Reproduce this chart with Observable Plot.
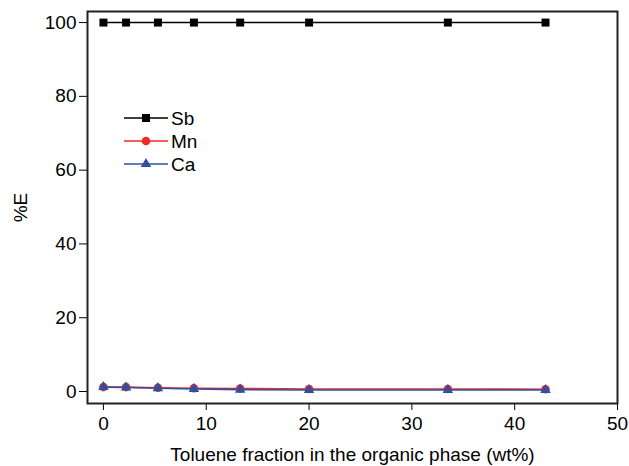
<!DOCTYPE html>
<html>
<head>
<meta charset="utf-8">
<script src="https://cdn.jsdelivr.net/npm/d3@7"></script>
<script src="https://cdn.jsdelivr.net/npm/@observablehq/plot@0.6"></script>
<style>
  html, body { margin: 0; padding: 0; background: #fff; }
  #chart { position: relative; width: 629px; height: 466px; }
</style>
</head>
<body>
<div id="chart"></div>
<script>
// Data
const toluene = [0, 2.2, 5.3, 8.8, 13.3, 20, 33.5, 43];
const sb = [100, 100, 100, 100, 100, 100, 100, 100];
const mn = [1.2, 1.2, 1.0, 0.9, 0.8, 0.7, 0.7, 0.6];
const ca = [1.2, 1.1, 0.9, 0.7, 0.5, 0.4, 0.4, 0.4];
const xTicks = [0, 10, 20, 30, 40, 50];
const yTicks = [0, 20, 40, 60, 80, 100];
const seriesNames = ["Sb", "Mn", "Ca"];
const seriesColors = ["#000000", "#ee2a24", "#2f4f9f"];
const seriesSymbols = ["square", "circle", "triangle"];
const seriesR = [4.5, 4.3, 3.9];

const seriesValues = [sb, mn, ca];
const rows = seriesNames.flatMap((name, i) =>
  toluene.map((t, j) => ({series: name, x: t, y: seriesValues[i][j]})));

const marks = [
  Plot.axisX({ticks: xTicks, tickSize: 7, tickPadding: 6, fontSize: 19,
    label: "Toluene fraction in the organic phase (wt%)", labelAnchor: "center",
    labelArrow: "none", labelOffset: 57}),
  Plot.axisY({ticks: yTicks, tickSize: 8, tickPadding: 3, fontSize: 19,
    label: "%E", labelAnchor: "center", labelArrow: "none", labelOffset: 74}),
  Plot.frame({stroke: "#222", strokeWidth: 2})
];
seriesNames.forEach((name, i) => {
  const d = rows.filter(r => r.series === name);
  marks.push(Plot.line(d, {x: "x", y: "y", stroke: seriesColors[i], strokeWidth: 1.6}));
  marks.push(Plot.dot(d, {x: "x", y: "y", fill: seriesColors[i], stroke: "none",
    symbol: seriesSymbols[i], r: seriesR[i]}));
});

const plot = Plot.plot({
  width: 629,
  height: 466,
  marginLeft: 87,
  marginRight: 12,
  marginTop: 11,
  marginBottom: 63,
  style: {fontFamily: "'Liberation Sans', Arial, sans-serif", fontSize: "19px", color: "#000", background: "#fff"},
  x: {domain: [-1.55, 50]},
  y: {domain: [-3.25, 103]},
  marks
});
document.getElementById("chart").appendChild(plot);

// Legend (inside the plot area, top-left)
const svg = d3.select(plot);
const lg = svg.append("g").attr("transform", "translate(124,118)")
  .attr("font-family", "'Liberation Sans', Arial, sans-serif").attr("font-size", 19)
  .attr("text-anchor", "start");
seriesNames.forEach((name, i) => {
  const g = lg.append("g").attr("transform", `translate(0,${i * 23})`);
  g.append("line").attr("x1", 0).attr("x2", 44).attr("y1", 0).attr("y2", 0)
    .attr("stroke", seriesColors[i]).attr("stroke-width", 1.6);
  const sym = {square: d3.symbolSquare, circle: d3.symbolCircle, triangle: d3.symbolTriangle}[seriesSymbols[i]];
  g.append("path").attr("transform", "translate(22,0)")
    .attr("d", d3.symbol(sym, Math.PI * seriesR[i] * seriesR[i])())
    .attr("fill", seriesColors[i]);
  g.append("text").attr("x", 47).attr("y", 0).attr("dy", "0.35em")
    .attr("text-anchor", "start").text(name);
});
</script>
</body>
</html>
